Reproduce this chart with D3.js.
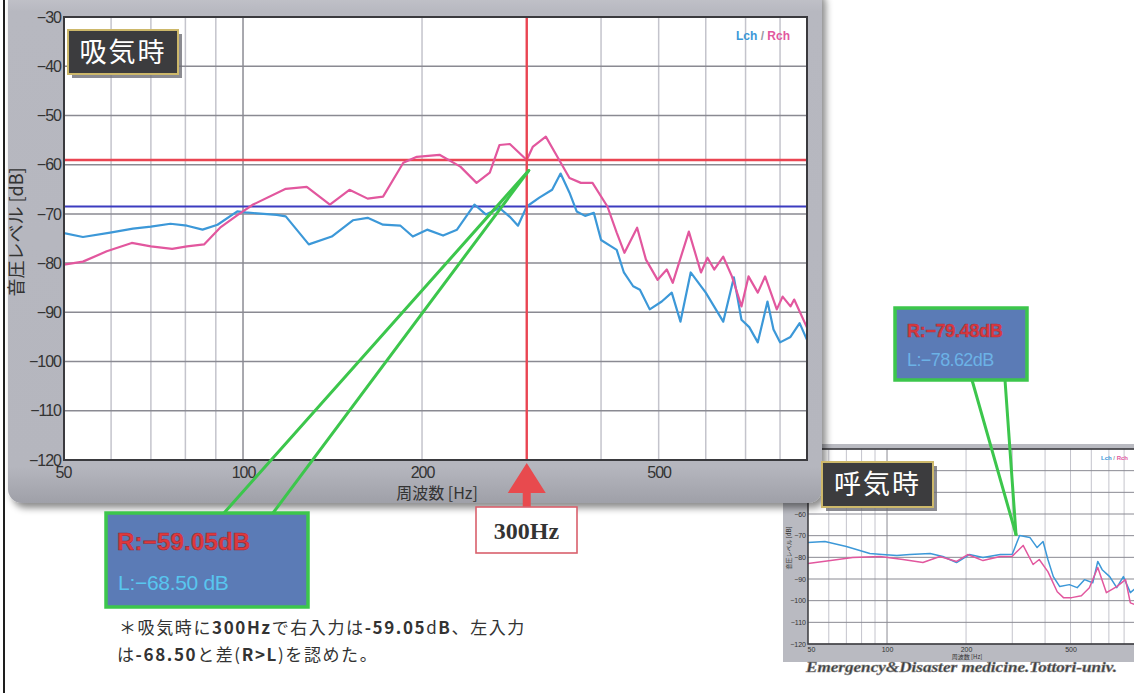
<!DOCTYPE html>
<html lang="ja">
<head>
<meta charset="utf-8">
<script src="https://cdn.jsdelivr.net/npm/d3@7/dist/d3.min.js"></script>
<style>
  html, body { margin: 0; padding: 0; background: #ffffff; }
  svg { display: block; font-family: "Liberation Sans", Arial, sans-serif; }
  .jp { font-family: "Noto Sans CJK JP", "Noto Sans", sans-serif; }
</style>
</head>
<body>
<svg id="chart" width="1134" height="693"></svg>
<script>
// ---- Inhalation (吸気時): left / right channel spectra ----
const lchInhaleHz = [50, 53.8, 59.8, 65.3, 70, 75.5, 80.5, 85.5, 90.6, 97.8, 101, 114, 118, 129, 141, 153, 162, 172, 184, 193, 204, 217, 229, 245, 256, 270, 281, 290, 300, 315, 331, 342, 354, 364, 376, 389, 400, 416, 425, 437, 453, 465, 483, 506, 526, 544, 566, 600, 642, 669, 689, 710, 734, 762, 780, 800, 833, 863, 888];
const lchInhaleDb = [-73.9, -74.7, -73.8, -73.0, -72.6, -72.0, -72.4, -73.2, -72.2, -69.5, -69.7, -70.2, -70.5, -76.2, -74.6, -71.3, -70.8, -72.2, -72.4, -74.6, -73.2, -74.4, -73.2, -68.1, -70.1, -68.8, -70.6, -72.4, -68.5, -66.7, -65.1, -61.8, -65.7, -69.5, -70.4, -69.8, -75.3, -76.6, -77.3, -81.9, -84.7, -85.4, -89.4, -87.8, -86.0, -91.9, -81.9, -86.0, -91.9, -82.9, -91.5, -93.0, -96.1, -87.8, -93.5, -96.1, -95.0, -92.2, -95.6];

const rchInhaleHz = [50, 53.8, 59, 65, 70, 76, 80.5, 86, 91.5, 98, 104, 118, 128, 140, 151, 162, 172, 186, 196, 214, 232, 247, 260, 270, 281, 300, 307, 323, 340, 354, 370, 387, 410, 425, 438, 460, 476, 498, 516, 528, 562, 589, 604, 620, 642, 664, 689, 708, 734, 755, 790, 808, 833, 845, 888];
const rchInhaleDb = [-80.3, -79.7, -77.6, -75.9, -76.6, -77.1, -76.6, -76.2, -72.8, -70.2, -68.1, -64.9, -64.5, -68.1, -65.1, -66.9, -66.5, -59.6, -58.4, -58.0, -60.4, -63.7, -61.6, -56.0, -55.8, -59.05, -56.4, -54.3, -59.0, -62.7, -63.7, -63.7, -68.5, -73.8, -77.9, -72.8, -79.3, -83.4, -81.3, -84.0, -73.6, -81.9, -78.9, -81.3, -78.7, -82.7, -88.8, -82.7, -86.0, -82.7, -89.4, -86.8, -88.8, -87.4, -93.1];

// ---- Exhalation (呼気時) ----
const lchExhaleHz = [50, 58, 70, 86, 96, 109, 122, 146, 163, 184, 206, 232, 270, 300, 320, 350, 373, 393, 410, 430, 455, 495, 530, 565, 608, 635, 660, 705, 750, 795, 845, 888];
const lchExhaleDb = [-73.1, -72.7, -75.0, -78.2, -78.7, -79.2, -78.7, -78.2, -79.6, -82.4, -78.7, -80.1, -78.7, -78.62, -69.9, -70.8, -75.5, -72.7, -81.0, -88.9, -93.5, -92.6, -94.0, -90.3, -91.7, -81.9, -85.7, -88.9, -94.0, -88.9, -96.3, -94.0];

const rchExhaleHz = [50, 61, 74, 94, 115, 137, 159, 184, 203, 232, 270, 300, 330, 360, 380, 410, 445, 470, 505, 550, 590, 635, 685, 750, 810, 845, 888];
const rchExhaleDb = [-82.9, -81.5, -80.1, -79.6, -81.0, -82.4, -79.6, -81.9, -78.7, -81.5, -79.6, -79.48, -74.5, -83.3, -81.0, -86.6, -95.9, -98.6, -98.6, -97.7, -94.0, -84.7, -96.3, -93.5, -90.3, -101.0, -102.0];

// ---- Axes ----
const freqDomain = [50, 888];
const dbDomain = [-120, -30];
const dbTicks = [-30, -40, -50, -60, -70, -80, -90, -100, -110, -120];
const freqTickLabels = [50, 100, 200, 500];
const freqGrid = [60, 70, 80, 90, 100, 200, 300, 400, 500, 600, 700, 800];

// ---- Markers read at 300 Hz ----
const markerHz = 300;
const inhaleR = -59.05, inhaleL = -68.50;
const exhaleR = -79.48, exhaleL = -78.62;
const inhaleTipDb = -61.2;       // callout tip on the inhale chart
const exhaleTip = [310, -69.5];  // callout tip on the exhale chart

const BLUE = "#3c98d8", PINK = "#e2579e";
const fmt = v => (v < 0 ? "\u2212" : "") + Math.abs(v);
const fmt2 = v => (v < 0 ? "\u2212" : "") + Math.abs(v).toFixed(2);

const svg = d3.select("#chart");
const defs = svg.append("defs");

const shadow = defs.append("filter").attr("id", "shadow")
  .attr("x", "-5%").attr("y", "-5%").attr("width", "115%").attr("height", "115%");
shadow.append("feDropShadow").attr("dx", 4).attr("dy", 5).attr("stdDeviation", 3.5)
  .attr("flood-color", "#000").attr("flood-opacity", 0.45);

const panelGrad = defs.append("linearGradient").attr("id", "panelGrad")
  .attr("x1", 0).attr("y1", 0).attr("x2", 0).attr("y2", 1);
panelGrad.append("stop").attr("offset", "0").attr("stop-color", "#c9c9cf");
panelGrad.append("stop").attr("offset", "0.05").attr("stop-color", "#b7b8c0");
panelGrad.append("stop").attr("offset", "0.93").attr("stop-color", "#b5b6be");
panelGrad.append("stop").attr("offset", "1").attr("stop-color", "#9fa0a8");

// page border on the left
svg.append("line").attr("x1", 4).attr("x2", 4).attr("y1", 0).attr("y2", 693)
  .attr("stroke", "#1e1e1e").attr("stroke-width", 2);

// Draws one spectrum panel (grid, axes, two channel curves)
function drawSpectrum(g, o) {
  const x = d3.scaleLog().domain(freqDomain).range([o.left, o.right]);
  const y = d3.scaleLinear().domain(dbDomain).range([o.bottom, o.top]);

  g.append("rect").attr("x", o.left).attr("y", o.top)
    .attr("width", o.right - o.left).attr("height", o.bottom - o.top).attr("fill", "#ffffff");

  g.append("g").selectAll("line").data(freqGrid).join("line")
    .attr("x1", d => x(d)).attr("x2", d => x(d)).attr("y1", o.top).attr("y2", o.bottom)
    .attr("stroke", d => d === 100 ? "#8c8c94" : "#c4c4cc")
    .attr("stroke-width", o.gridW);

  g.append("g").selectAll("line").data(dbTicks).join("line")
    .attr("x1", o.left).attr("x2", o.right).attr("y1", d => y(d)).attr("y2", d => y(d))
    .attr("stroke", "#8a8a92").attr("stroke-width", o.gridW);

  const yAxis = g.append("g").attr("transform", `translate(${o.left},0)`)
    .call(d3.axisLeft(y).tickValues(dbTicks).tickFormat(fmt).tickSize(0).tickPadding(o.yPad));
  const xAxis = g.append("g").attr("transform", `translate(0,${o.bottom})`)
    .call(d3.axisBottom(x).tickValues(freqTickLabels).tickFormat(d => d).tickSize(0).tickPadding(o.xPad));
  [yAxis, xAxis].forEach(a => {
    a.select(".domain").remove();
    a.selectAll("text").attr("font-size", o.tickSize).attr("fill", "#333")
      .attr("font-family", "'Liberation Sans', Arial, sans-serif").attr("letter-spacing", o.tickSpacing);
  });
  xAxis.selectAll(".tick").filter(d => d === 50).select("text").attr("dx", o.firstDx);

  const line = d3.line().x(d => x(d[0])).y(d => y(d[1]));
  const clipId = o.id + "Clip";
  defs.append("clipPath").attr("id", clipId).append("rect")
    .attr("x", o.left).attr("y", o.top).attr("width", o.right - o.left).attr("height", o.bottom - o.top);
  const plot = g.append("g").attr("clip-path", `url(#${clipId})`);

  if (o.refLines) {
    plot.append("line").attr("x1", o.left).attr("x2", o.right)
      .attr("y1", y(inhaleL)).attr("y2", y(inhaleL)).attr("stroke", "#3c3cc0").attr("stroke-width", 2.2);
    plot.append("line").attr("x1", o.left).attr("x2", o.right)
      .attr("y1", y(inhaleR)).attr("y2", y(inhaleR)).attr("stroke", "#ea4552").attr("stroke-width", 2.4);
  }

  plot.append("path").datum(d3.zip(o.lHz, o.lDb)).attr("d", line)
    .attr("fill", "none").attr("stroke", BLUE).attr("stroke-width", o.lineW).attr("stroke-linejoin", "round");
  plot.append("path").datum(d3.zip(o.rHz, o.rDb)).attr("d", line)
    .attr("fill", "none").attr("stroke", PINK).attr("stroke-width", o.lineW).attr("stroke-linejoin", "round");

  if (o.refLines) {
    plot.append("line").attr("x1", x(markerHz)).attr("x2", x(markerHz)).attr("y1", o.top).attr("y2", o.bottom)
      .attr("stroke", "#ea4552").attr("stroke-width", 2.4);
  }

  g.append("rect").attr("x", o.left).attr("y", o.top)
    .attr("width", o.right - o.left).attr("height", o.bottom - o.top)
    .attr("fill", "none").attr("stroke", "#3a3a3e").attr("stroke-width", o.frameW);

  // channel legend
  const leg = g.append("text").attr("x", o.legX).attr("y", o.legY)
    .attr("font-size", o.legSize).attr("font-weight", "bold").attr("text-anchor", "end");
  leg.append("tspan").attr("fill", BLUE).text("Lch");
  leg.append("tspan").attr("fill", "#9a9aa4").text(" / ");
  leg.append("tspan").attr("fill", PINK).text("Rch");

  // axis titles
  g.append("text").attr("class", "jp").attr("x", o.xTitle[0]).attr("y", o.xTitle[1])
    .attr("text-anchor", "middle").attr("font-size", o.xTitleSize).attr("fill", "#333").text("周波数 [Hz]");
  g.append("text").attr("class", "jp")
    .attr("transform", `translate(${o.yTitle[0]},${o.yTitle[1]}) rotate(-90)`)
    .attr("text-anchor", "middle").attr("font-size", o.yTitleSize).attr("fill", "#333").text("音圧レベル [dB]");

  return { x, y };
}

function stateLabel(x0, y0, w, h, text, size) {
  svg.append("rect").attr("x", x0 + 4).attr("y", y0 + 4).attr("width", w).attr("height", h)
    .attr("fill", "#6e6e76").attr("opacity", 0.8);
  svg.append("rect").attr("x", x0).attr("y", y0).attr("width", w).attr("height", h)
    .attr("fill", "#3c3c3e").attr("stroke", "#cdb86a").attr("stroke-width", 2);
  svg.append("text").attr("class", "jp").attr("x", x0 + w / 2).attr("y", y0 + h / 2 + size * 0.36)
    .attr("text-anchor", "middle").attr("font-size", size).attr("letter-spacing", 2)
    .attr("fill", "#ffffff").text(text);
}

// ===== Exhale panel (drawn first; the inhale panel overlaps its corner) =====
const exG = svg.append("g");
exG.append("rect").attr("x", 783).attr("y", 444).attr("width", 380).attr("height", 218)
  .attr("fill", "#b9bac1");
const ex = drawSpectrum(exG, {
  id: "ex", left: 808, right: 1136, top: 449, bottom: 644,
  lHz: lchExhaleHz, lDb: lchExhaleDb, rHz: rchExhaleHz, rDb: rchExhaleDb,
  gridW: 1, lineW: 1.5, frameW: 1.5, refLines: false,
  tickSize: 7, tickSpacing: 0, yPad: 2, xPad: 3, firstDx: 3,
  legX: 1128, legY: 460, legSize: 6,
  xTitle: [967, 659], yTitle: [791, 548], xTitleSize: 6, yTitleSize: 6
});

// ===== Inhale panel =====
const inG = svg.append("g");
inG.append("rect").attr("x", 8).attr("y", -14).attr("width", 814).attr("height", 517)
  .attr("rx", 14).attr("fill", "url(#panelGrad)").attr("filter", "url(#shadow)");
const inh = drawSpectrum(inG, {
  id: "in", left: 64, right: 807, top: 17, bottom: 460,
  lHz: lchInhaleHz, lDb: lchInhaleDb, rHz: rchInhaleHz, rDb: rchInhaleDb,
  gridW: 1.5, lineW: 2.2, frameW: 2, refLines: true,
  tickSize: 16, tickSpacing: -1, yPad: 3, xPad: 7, firstDx: -1,
  legX: 790, legY: 40, legSize: 12,
  xTitle: [437, 499], yTitle: [23, 232], xTitleSize: 16, yTitleSize: 18
});

stateLabel(68, 30, 110, 44, "吸気時", 27);
stateLabel(822, 462, 111, 45, "呼気時", 27);

// ===== 300 Hz pointer =====
const mx = inh.x(markerHz);
svg.append("path")
  .attr("d", `M${mx},463 L${mx + 19},493 L${mx + 4},493 L${mx + 4},507 L${mx - 4},507 L${mx - 4},493 L${mx - 19},493 Z`)
  .attr("fill", "#e84a4e");
svg.append("rect").attr("x", 476).attr("y", 507).attr("width", 101).attr("height", 46)
  .attr("fill", "#ffffff").attr("stroke", "#d9606c").attr("stroke-width", 1.6);
svg.append("text").attr("x", 526.5).attr("y", 539).attr("text-anchor", "middle")
  .attr("font-family", "'Liberation Serif', 'DejaVu Serif', serif").attr("font-weight", "bold")
  .attr("font-size", 24).attr("fill", "#333").text(markerHz + "Hz");

// ===== Callouts =====
function callout(tipX, tipY, anchors, box, lines) {
  anchors.forEach(a => {
    svg.append("line").attr("x1", a[0]).attr("y1", a[1]).attr("x2", tipX).attr("y2", tipY)
      .attr("stroke", "#3cc64c").attr("stroke-width", 3).attr("stroke-linecap", "round");
  });
  svg.append("rect").attr("x", box[0]).attr("y", box[1]).attr("width", box[2]).attr("height", box[3])
    .attr("fill", "#5b7bb6").attr("stroke", "#3cc64c").attr("stroke-width", 3.5);
  lines.forEach(t => {
    svg.append("text").attr("x", t.x).attr("y", t.y).attr("font-size", t.size)
      .attr("font-weight", t.bold ? "bold" : "normal").attr("fill", t.color)
      .attr("stroke", t.stroke || "none").attr("stroke-width", t.stroke ? 0.6 : 0)
      .attr("letter-spacing", t.ls || 0).text(t.text);
  });
}

callout(mx + 2, inh.y(inhaleTipDb), [[224, 513], [273, 513]], [106, 513, 202, 94], [
  { x: 117, y: 550, size: 24, bold: true, color: "#e0393c", stroke: "#9a2a3a", ls: 0.2,
    text: "R:" + fmt2(inhaleR) + "dB" },
  { x: 118, y: 590, size: 21, bold: false, color: "#58c6ef", ls: -0.3,
    text: "L:" + fmt2(inhaleL) + " dB" }
]);

callout(ex.x(exhaleTip[0]), ex.y(exhaleTip[1]), [[972, 380], [1005, 380]], [895, 308, 132, 72], [
  { x: 907, y: 337, size: 18, bold: true, color: "#e0393c", stroke: "#a83040", ls: -0.3,
    text: "R:" + fmt2(exhaleR) + "dB" },
  { x: 907, y: 366, size: 18, bold: false, color: "#6cb2e6", ls: -0.6,
    text: "L:" + fmt2(exhaleL) + "dB" }
]);

// ===== Note below the inhale chart =====
const note1 = svg.append("text").attr("class", "jp").attr("x", 119).attr("y", 634)
  .attr("font-size", 17).attr("letter-spacing", 1.6).attr("fill", "#333");
[["＊吸気時に", false], ["300Hz", true], ["で右入力は", false], ["-59.05", true], ["d", false], ["B", true], ["、左入力", false]]
  .forEach(([t, b]) => note1.append("tspan").attr("font-weight", b ? "bold" : "normal").text(t));
const note2 = svg.append("text").attr("class", "jp").attr("x", 117).attr("y", 661)
  .attr("font-size", 17).attr("letter-spacing", 1.6).attr("fill", "#333");
[["は", false], ["-68.50", true], ["と差(", false], ["R>L", true], [")を認めた。", false]]
  .forEach(([t, b]) => note2.append("tspan").attr("font-weight", b ? "bold" : "normal").text(t));

// ===== Credit line =====
svg.append("text").attr("x", 806).attr("y", 672).attr("font-family", "'Liberation Serif', serif")
  .attr("font-style", "italic").attr("font-weight", "bold").attr("font-size", 15)
  .attr("textLength", 311).attr("lengthAdjust", "spacingAndGlyphs")
  .attr("fill", "#3a3a3a").attr("stroke", "#8a8a8a").attr("stroke-width", 0.5)
  .text("Emergency&Disaster medicine.Tottori-univ.");
</script>
</body>
</html>
